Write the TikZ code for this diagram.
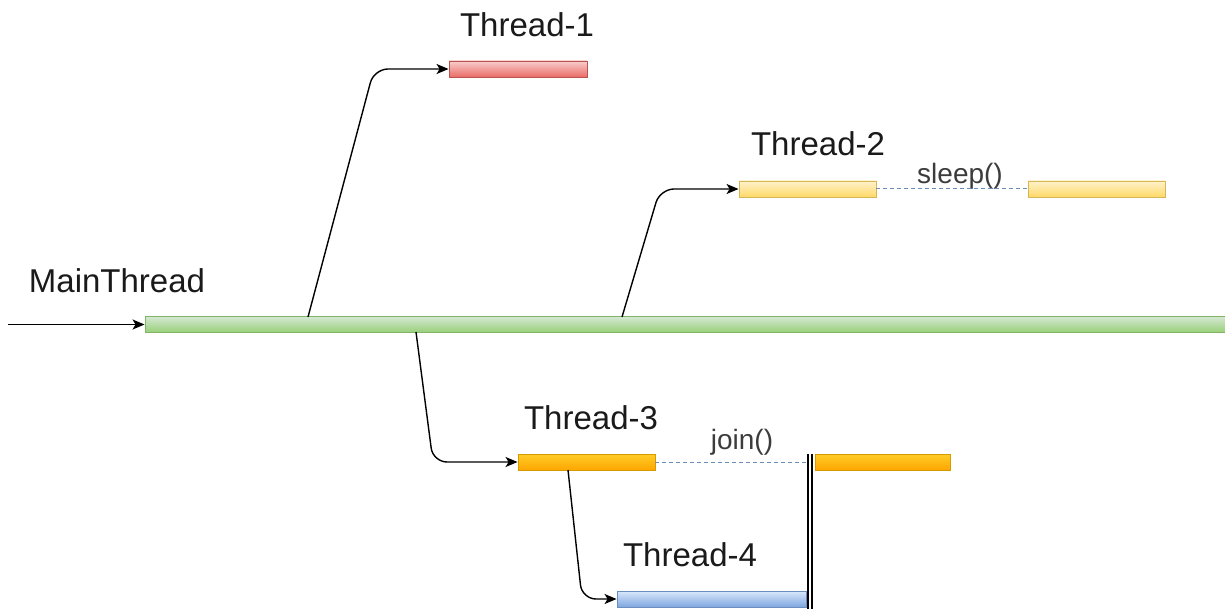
\documentclass[tikz,border=0pt]{standalone}
\usepackage{fontspec}
\setmainfont{Liberation Sans}
\usetikzlibrary{arrows.meta,calc}
\definecolor{gtop}{HTML}{D5E8D4}\definecolor{gbot}{HTML}{97D077}\definecolor{gdr}{HTML}{82B366}
\definecolor{rtop}{HTML}{F8CECC}\definecolor{rbot}{HTML}{EA6B66}\definecolor{rdr}{HTML}{B85450}
\definecolor{ytop}{HTML}{FFF2CC}\definecolor{ybot}{HTML}{FFD966}\definecolor{ydr}{HTML}{D6B656}
\definecolor{otop}{HTML}{FFCD28}\definecolor{obot}{HTML}{FFA500}\definecolor{odr}{HTML}{D79B00}
\definecolor{btop}{HTML}{DAE8FC}\definecolor{bbot}{HTML}{7EA6E0}\definecolor{bdr}{HTML}{6C8EBF}
\definecolor{dashc}{HTML}{6C8EBF}
\definecolor{txt}{HTML}{1A1A1A}
\tikzset{
  bar/.style={rectangle, inner sep=0pt, minimum height=16pt, line width=0.9pt},
  greenbar/.style={bar, top color=gtop, bottom color=gbot, draw=gdr},
  redbar/.style={bar, top color=rtop, bottom color=rbot, draw=rdr},
  yellowbar/.style={bar, top color=ytop, bottom color=ybot, draw=ydr},
  orangebar/.style={bar, top color=otop, bottom color=obot, draw=odr},
  bluebar/.style={bar, top color=btop, bottom color=bbot, draw=bdr},
  conn/.style={line width=1.4pt, rounded corners=14pt, -{Stealth[length=12pt,width=10pt,inset=3pt]}},
  waitline/.style={dashc, line width=1pt, dash pattern=on 4pt off 3pt},
  title/.style={font=\fontsize{33}{38}\selectfont, text=txt, inner sep=0pt},
  call/.style={font=\fontsize{28}{32}\selectfont, text=txt!85, inner sep=0pt},
}
\begin{document}
\begin{tikzpicture}[x=1pt,y=-1pt]
\useasboundingbox (0,0) rectangle (1225,609);
% bars
\node[greenbar, minimum width=1080pt] (main) at (685,324.5) {};
\node[redbar, minimum width=138pt] (t1) at (518,69) {};
\node[yellowbar, minimum width=137pt] (t2a) at (807.5,189) {};
\node[yellowbar, minimum width=137pt] (t2b) at (1096.5,189) {};
\node[orangebar, minimum width=137pt] (t3a) at (586.5,462) {};
\node[orangebar, minimum width=135pt] (t3b) at (882.5,462) {};
\node[bluebar, minimum width=189pt] (t4) at (711.5,599) {};
% labels
\node[title] (l1) at (527,25) {Thread-1};
\node[title] (l2) at (818,144) {Thread-2};
\node[title] (lm) at (117,281) {MainThread};
\node[title] (l3) at (591,418) {Thread-3};
\node[title] (l4) at (690,555) {Thread-4};
\node[call] (ls) at (960,176) {sleep()};
\node[call] (lj) at (742,442) {join()};
% join barrier
\coordinate (j1top) at (808,454);
\coordinate (j1bot) at (808,609);
\coordinate (j2top) at (812,454);
\coordinate (j2bot) at (812,609);
\draw[line width=1.2pt] (j1top) -- (j1bot);
\draw[line width=1.2pt] (j2top) -- (j2bot);
\coordinate (jwait) at (808,462);
% wait lines
\draw[waitline] (t2a.east) -- (t2b.west);
\draw[waitline] (t3a.east) -- (jwait);
% connectors
\coordinate (in) at (8,324.5);
\draw[line width=1.4pt, -{Stealth[length=12pt,width=10pt,inset=3pt]}] (in) -- (main.west);
\coordinate (s1) at (308,317);
\coordinate (c1) at (374,69);
\draw[conn] (s1) -- (c1) -- (t1.west);
\coordinate (s2) at (622,317);
\coordinate (c2) at (660,189);
\draw[conn] (s2) -- (c2) -- (t2a.west);
\coordinate (s3) at (416,332);
\coordinate (c3) at (433,462);
\draw[conn] (s3) -- (c3) -- (t3a.west);
\coordinate (s4) at (568,470);
\coordinate (c4) at (582,599);
\draw[conn] (s4) -- (c4) -- (t4.west);
\end{tikzpicture}
\end{document}
